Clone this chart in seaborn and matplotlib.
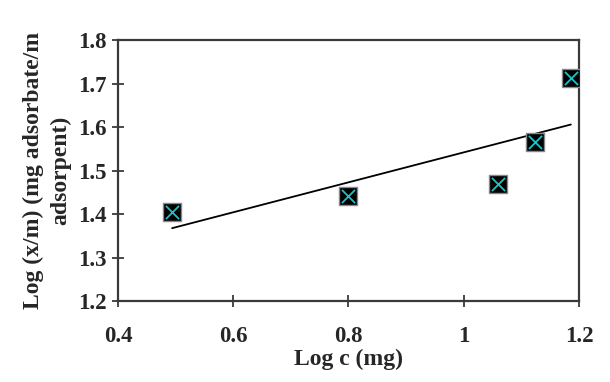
import matplotlib
matplotlib.use("Agg")
import matplotlib.pyplot as plt
import seaborn as sns
import numpy as np
import pandas as pd

log_c = [0.494, 0.800, 1.059, 1.124, 1.186]
log_xm = [1.404, 1.441, 1.470, 1.565, 1.713]
x_ticks = [0.4, 0.6, 0.8, 1.0, 1.2]
x_tick_labels = ["0.4", "0.6", "0.8", "1", "1.2"]
y_ticks = [1.2, 1.3, 1.4, 1.5, 1.6, 1.7, 1.8]

df = pd.DataFrame({"log_c": log_c, "log_xm": log_xm})

sns.set_theme(style="white")
plt.rcParams["font.family"] = ["Liberation Serif", "DejaVu Serif"]
plt.rcParams["font.weight"] = "bold"

fig = plt.figure(figsize=(6.1, 3.82), dpi=100)
ax = fig.add_axes([0.1934, 0.212, 0.7557, 0.683])

sns.regplot(data=df, x="log_c", y="log_xm", ax=ax, ci=None, scatter=False,
            line_kws=dict(color="black", lw=1.3))
sns.scatterplot(data=df, x="log_c", y="log_xm", ax=ax, marker="s", s=150,
                color="black", edgecolor="#888888", linewidth=1.0, zorder=3)
sns.scatterplot(data=df, x="log_c", y="log_xm", ax=ax, marker="x", s=90,
                color="#19c3c8", linewidth=1.3, zorder=4)

ax.set_xlim(0.4, 1.2)
ax.set_ylim(1.2, 1.8)
ax.set_xticks(x_ticks)
ax.set_xticklabels(x_tick_labels)
ax.set_yticks(y_ticks)
ax.set_yticklabels([f"{v:.1f}" for v in y_ticks])

for s in ax.spines.values():
    s.set_color("#3a3a3a")
    s.set_linewidth(1.6)

ax.tick_params(axis="both", which="both", direction="inout", length=8,
               width=1.3, color="#3a3a3a", labelsize=16.5, left=True, bottom=True)
ax.tick_params(axis="x", pad=14)
ax.tick_params(axis="y", pad=4)
for lbl in ax.get_xticklabels() + ax.get_yticklabels():
    lbl.set_fontweight("bold")

ax.set_xlabel("Log c (mg)", fontsize=17, fontweight="bold", labelpad=1)
ax.set_ylabel("Log (x/m) (mg adsorbate/m\nadsorpent)", fontsize=17,
              fontweight="bold", labelpad=5, linespacing=1.35)

fig.savefig("out.png", dpi=100)
